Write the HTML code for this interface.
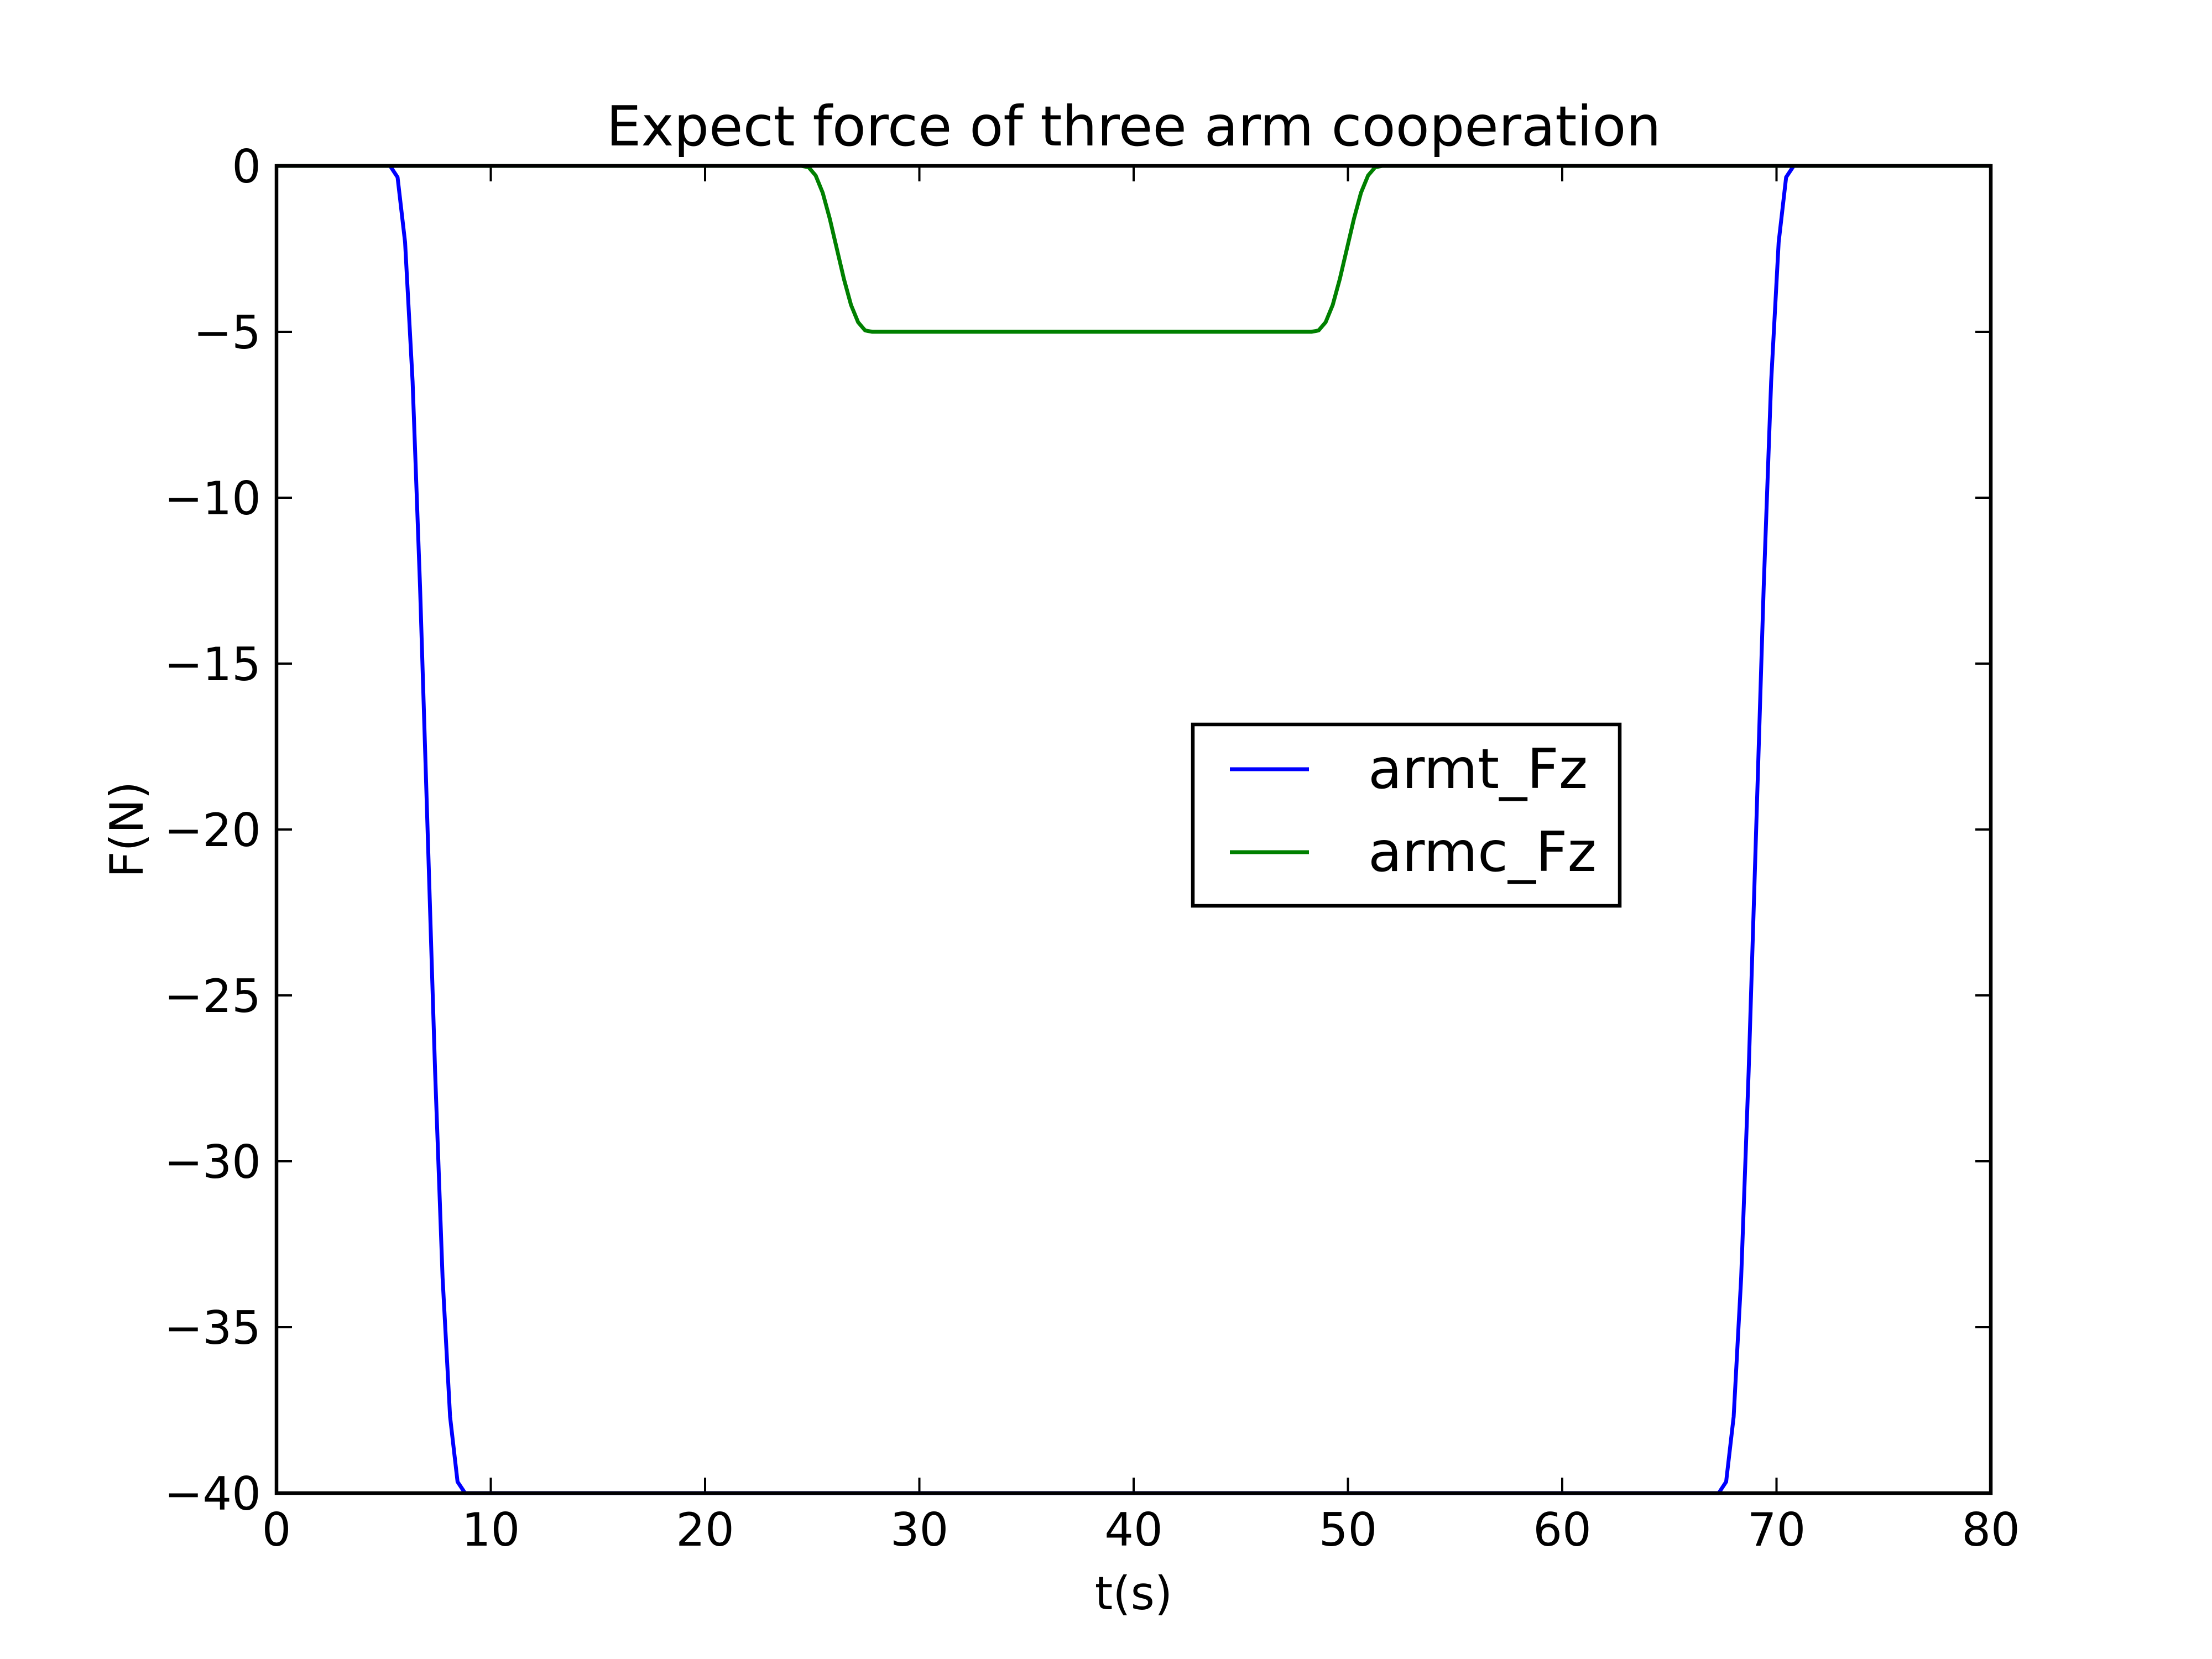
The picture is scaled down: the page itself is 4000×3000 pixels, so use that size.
<!DOCTYPE html>
<html><head><meta charset="utf-8"><style>html,body{margin:0;padding:0;background:#fff}svg{display:block}text{font-family:"DejaVu Sans","Liberation Sans",sans-serif;fill:#000}</style></head>
<body>
<svg id="chart" width="4000" height="3000" viewBox="0 0 4000 3000" xmlns="http://www.w3.org/2000/svg">
<rect width="4000" height="3000" fill="#fff"/>
<text x="2050" y="263" font-size="100" text-anchor="middle">Expect force of three arm cooperation</text>
<g id="ticks"></g>
<g id="series"></g>
<rect x="500" y="300" width="3100" height="2400" fill="none" stroke="#000" stroke-width="6.5"/>
<text x="2050" y="2910" font-size="83" text-anchor="middle">t(s)</text>
<text x="0" y="0" font-size="83" text-anchor="middle" transform="translate(258,1500) rotate(-90)">F(N)</text>
<g>
<rect x="2157" y="1310" width="772" height="328" fill="#fff" stroke="#000" stroke-width="6.5"/>
<line x1="2224" y1="1391" x2="2367" y2="1391" stroke="#0000ff" stroke-width="7"/>
<text x="2474" y="1425" font-size="100">armt_Fz</text>
<line x1="2224" y1="1541" x2="2367" y2="1541" stroke="#008000" stroke-width="7"/>
<text x="2474" y="1575" font-size="100">armc_Fz</text>
</g>
</svg>
<script>
const xTicks = [0,10,20,30,40,50,60,70,80];
const yTicks = [0,-5,-10,-15,-20,-25,-30,-35,-40];
const yTickLabels = ["0","\u22125","\u221210","\u221215","\u221220","\u221225","\u221230","\u221235","\u221240"];
const armtT = [0,5.3,5.65,6.0,6.35,6.7,7.05,7.4,7.75,8.1,8.45,8.8,67.3,67.65,68.0,68.35,68.7,69.05,69.4,69.75,70.1,70.45,70.8,80];
const armtF = [0,0,-0.34,-2.3,-6.5,-12.7,-20,-27.3,-33.5,-37.7,-39.66,-40,-40,-39.66,-37.7,-33.5,-27.3,-20,-12.7,-6.5,-2.3,-0.34,0,0];
const armcT = [0,24.5,24.83,25.16,25.49,25.82,26.15,26.48,26.81,27.14,27.47,27.8,48.3,48.63,48.96,49.29,49.62,49.95,50.28,50.61,50.94,51.27,51.6,80];
const armcF = [0,0,-0.04,-0.29,-0.81,-1.59,-2.5,-3.41,-4.19,-4.71,-4.96,-5,-5,-4.96,-4.71,-4.19,-3.41,-2.5,-1.59,-0.81,-0.29,-0.04,0,0];
const NS='http://www.w3.org/2000/svg';
const X0=500,X1=3600,Y0=300,Y1=2700,xmin=0,xmax=80,ymin=-40,ymax=0;
function sx(v){return X0+(v-xmin)/(xmax-xmin)*(X1-X0);}
function sy(v){return Y1-(v-ymin)/(ymax-ymin)*(Y1-Y0);}
function mk(t,a){const e=document.createElementNS(NS,t);for(const k in a)e.setAttribute(k,a[k]);return e;}
const tg=document.getElementById('ticks');
xTicks.forEach(v=>{
 const x=sx(v);
 const t1=mk('line',{x1:x,y1:Y1,x2:x,y2:Y1-28,stroke:'#000','stroke-width':4});
 
 
 tg.appendChild(t1);
 const t2=mk('line',{x1:x,y1:Y0,x2:x,y2:Y0+28,stroke:'#000','stroke-width':4});
 
 
 tg.appendChild(t2);
 const l=mk('text',{x:x,y:2795,'font-size':83,'text-anchor':'middle'});
 l.textContent=String(v);
 
 
 tg.appendChild(l);
});
yTicks.forEach((v,i)=>{
 const y=sy(v);
 const t1=mk('line',{x1:X0,y1:y,x2:X0+28,y2:y,stroke:'#000','stroke-width':4});
 
 
 tg.appendChild(t1);
 const t2=mk('line',{x1:X1,y1:y,x2:X1-28,y2:y,stroke:'#000','stroke-width':4});
 
 
 tg.appendChild(t2);
 const l=mk('text',{x:472,y:y+30,'font-size':83,'text-anchor':'end'});
 l.textContent=yTickLabels[i];
 
 
 tg.appendChild(l);
});
const sg=document.getElementById('series');
function path(T,F,c,name){
 let d='';T.forEach((t,i)=>{d+=(i?'L':'M')+sx(t).toFixed(1)+','+sy(F[i]).toFixed(1);});
 const p=mk('path',{d:d,fill:'none',stroke:c,'stroke-width':7,'stroke-linejoin':'round'});
 
 
 sg.appendChild(p);
}
path(armtT,armtF,'#0000ff','armt-fz-line');
path(armcT,armcF,'#008000','armc-fz-line');
</script>
</body></html>
